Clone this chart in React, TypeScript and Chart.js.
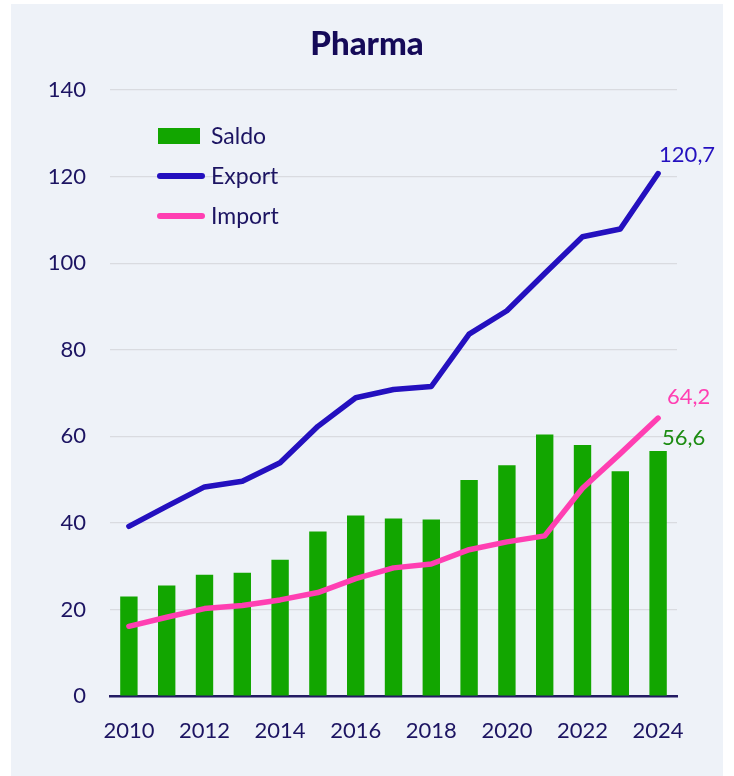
import React, { useEffect, useRef } from "react";
import { Chart, registerables } from "chart.js";

Chart.register(...registerables);

const years = ["2010", "2011", "2012", "2013", "2014", "2015", "2016", "2017", "2018", "2019", "2020", "2021", "2022", "2023", "2024"];
const saldo = [23.0, 25.5, 28.0, 28.5, 31.5, 38.0, 41.7, 41.0, 40.8, 49.9, 53.3, 60.4, 58.0, 51.9, 56.6];
const exportValues = [39.2, 43.8, 48.3, 49.6, 53.9, 62.3, 68.9, 70.8, 71.5, 83.6, 89.0, 97.6, 106.1, 107.9, 120.7];
const importValues = [16.1, 18.2, 20.2, 20.9, 22.2, 23.9, 27.1, 29.6, 30.5, 33.8, 35.6, 37.0, 48.0, 56.0, 64.2];
const seriesNames = ["Saldo", "Export", "Import"];
const yMin = 0;
const yMax = 140;
const yStep = 20;

const TITLE = "Pharma";
const FONT = "Lato, 'Noto Sans', sans-serif";
const NAVY = "#1c1462";
const GREEN = "#12a600";
const GREEN_LABEL = "#1c8c12";
const BLUE = "#2410bf";
const PINK = "#ff3fb2";
const BG = "#eef2f8";

const fmt = (v: number) => v.toFixed(1).replace(".", ",");

const overlayPlugin = {
  id: "overlay",
  afterDraw(chart: any) {
    const ctx = chart.ctx;
    const area = chart.chartArea;
    ctx.save();
    // title
    ctx.fillStyle = "#150a58";
    ctx.font = `900 33px ${FONT}`;
    ctx.textAlign = "center";
    ctx.textBaseline = "middle";
    ctx.fillText(TITLE, chart.width / 2, 40);

    // legend
    const colors = [GREEN, BLUE, PINK];
    ctx.font = `23px ${FONT}`;
    ctx.textAlign = "left";
    seriesNames.forEach((name, i) => {
      const y = area.top + 46 + i * 40;
      const x0 = area.left + 48;
      if (i === 0) {
        ctx.fillStyle = colors[i];
        ctx.fillRect(x0, y - 8, 42, 16);
      } else {
        ctx.strokeStyle = colors[i];
        ctx.lineWidth = 6;
        ctx.lineCap = "round";
        ctx.beginPath();
        ctx.moveTo(x0 + 2, y);
        ctx.lineTo(x0 + 44, y);
        ctx.stroke();
      }
      ctx.fillStyle = NAVY;
      ctx.fillText(name, area.left + 101, y + 1);
    });

    // end labels
    const last = years.length - 1;
    const labelSpecs = [
      { ds: 0, color: GREEN_LABEL, dx: 4, dy: -13 },
      { ds: 1, color: BLUE, dx: 1, dy: -19 },
      { ds: 2, color: PINK, dx: 9, dy: -21 },
    ];
    ctx.font = `22px ${FONT}`;
    labelSpecs.forEach((s) => {
      const el = chart.getDatasetMeta(s.ds).data[last];
      const v = chart.data.datasets[s.ds].data[last];
      ctx.fillStyle = s.color;
      ctx.textAlign = "left";
      ctx.textBaseline = "middle";
      ctx.fillText(fmt(v), el.x + s.dx, el.y + s.dy);
    });
    ctx.restore();
  },
};

export default function App() {
  const ref = useRef<HTMLCanvasElement | null>(null);

  useEffect(() => {
    if (!ref.current) return;
    const chart = new Chart(ref.current, {
      type: "bar",
      data: {
        labels: years,
        datasets: [
          {
            type: "bar",
            label: seriesNames[0],
            data: saldo,
            backgroundColor: GREEN,
            barPercentage: 0.46,
            categoryPercentage: 1,
            order: 3,
          },
          {
            type: "line",
            label: seriesNames[1],
            data: exportValues,
            borderColor: BLUE,
            borderWidth: 5.5,
            pointRadius: 0,
            borderCapStyle: "round",
            borderJoinStyle: "round",
            tension: 0,
            order: 2,
          },
          {
            type: "line",
            label: seriesNames[2],
            data: importValues,
            borderColor: PINK,
            borderWidth: 5.5,
            pointRadius: 0,
            borderCapStyle: "round",
            borderJoinStyle: "round",
            tension: 0,
            order: 1,
          },
        ] as any,
      },
      options: {
        animation: false,
        responsive: false,
        maintainAspectRatio: false,
        layout: { padding: { left: 0, right: 46, top: 86, bottom: 0 } },
        plugins: {
          legend: { display: false },
          title: { display: false },
          tooltip: { enabled: false },
        },
        scales: {
          x: {
            grid: { display: false, drawTicks: false },
            border: { display: true, color: "#231b63", width: 2.5 },
            afterFit: (s: any) => {
              s.height = 80;
            },
            ticks: {
              autoSkip: false,
              maxRotation: 0,
              padding: 22,
              color: NAVY,
              font: { family: FONT, size: 22 },
              callback: (_v: any, i: number) => (Number(years[i]) % 2 === 0 ? years[i] : ""),
            },
          },
          y: {
            min: yMin,
            max: yMax,
            grid: { color: "#d9dbe0", lineWidth: 1.2, drawTicks: false },
            border: { display: false },
            afterFit: (s: any) => {
              s.width = 99;
            },
            ticks: {
              stepSize: yStep,
              padding: 24,
              color: NAVY,
              font: { family: FONT, size: 22 },
            },
          },
        },
      } as any,
      plugins: [overlayPlugin],
    });
    return () => chart.destroy();
  }, []);

  return (
    <div
      style={{
        position: "absolute",
        left: 11,
        top: 4,
        width: 712,
        height: 772,
        background: BG,
      }}
    >
      <canvas ref={ref} width={712} height={772} style={{ display: "block", width: 712, height: 772 }} />
    </div>
  );
}
